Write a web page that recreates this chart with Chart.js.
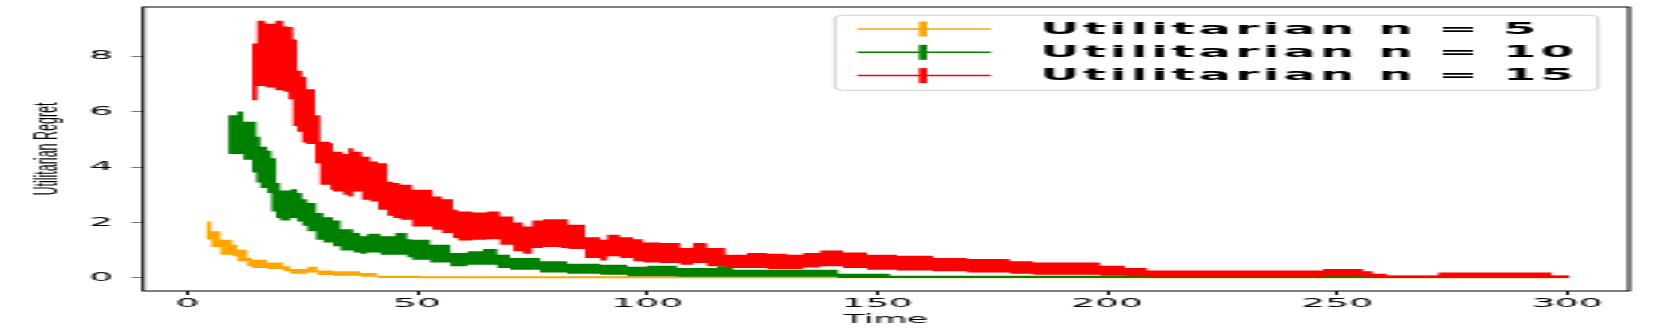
<!DOCTYPE html>
<html>
<head>
<meta charset="utf-8">
<title>Utilitarian Regret</title>
<script src="https://cdn.jsdelivr.net/npm/chart.js@4.4.1/dist/chart.umd.min.js"></script>
<style>
  html, body { margin: 0; padding: 0; background: #fff; overflow: hidden; }
  /* the figure is drawn narrow and stretched 3x horizontally, like the original */
  #wrap { width: 553px; height: 332px; transform: scaleX(3); transform-origin: 0 0; }
</style>
</head>
<body>
<div id="wrap"><canvas id="chart" width="553" height="332"></canvas></div>
<script>
// axis ticks
const xTicks = [0, 50, 100, 150, 200, 250, 300];
const yTicks = [0, 2, 4, 6, 8];

const seriesLabels = ['Utilitarian n = 5', 'Utilitarian n = 10', 'Utilitarian n = 15'];
const seriesColors = ['#ffa500', '#008000', '#ff0000'];

// n = 5 : step start times, upper / lower edge of error band
const n5Time  = [4.1, 5.2, 7.2, 9.8, 10.9, 13.0, 14.1, 17.4, 20.9, 22.4, 26.1, 28.3, 31.7, 37.6, 41.3, 50.7, 300.6];
const n5Upper = [2.04, 1.68, 1.38, 1.2, 1.02, 0.72, 0.66, 0.56, 0.42, 0.32, 0.4, 0.27, 0.24, 0.18, 0.08, 0.06, 0.06];
const n5Lower = [1.4, 1.12, 0.84, 0.78, 0.6, 0.42, 0.36, 0.32, 0.24, 0.15, 0.2, 0.11, 0.08, 0.04, 0.0, -0.01, -0.01];

// n = 10
const n10Time  = [8.9, 10.9, 12.2, 14.1, 15.0, 15.9, 17.4, 18.3, 19.3, 20.2, 22.4, 23.9, 25.0, 26.1, 28.0, 29.6, 31.7, 33.3, 36.1, 37.6, 39.1, 42.0, 45.2, 47.8, 48.9, 52.8, 57.2, 60.9, 64.3, 67.4, 70.2, 76.7, 82.6, 89.8, 95.7, 100.0, 106.5, 115.2, 118.7, 141.5, 152.8, 300.6];
const n10Upper = [5.87, 6.0, 5.63, 5.63, 5.09, 4.73, 4.59, 4.32, 3.42, 3.15, 3.2, 3.06, 2.84, 2.7, 2.34, 2.19, 2.07, 1.76, 1.62, 1.5, 1.59, 1.5, 1.62, 1.4, 1.38, 1.2, 0.9, 0.96, 1.04, 0.84, 0.72, 0.6, 0.51, 0.48, 0.4, 0.44, 0.36, 0.42, 0.3, 0.15, 0.08, 0.08];
const n10Lower = [4.47, 4.47, 4.26, 3.8, 3.44, 3.24, 3.06, 2.4, 2.16, 2.07, 2.16, 2.04, 1.88, 1.68, 1.38, 1.28, 1.14, 0.99, 0.92, 0.87, 0.92, 0.84, 0.84, 0.75, 0.66, 0.56, 0.42, 0.48, 0.48, 0.36, 0.3, 0.2, 0.15, 0.12, 0.06, 0.06, 0.04, 0.04, 0.04, 0.0, 0.0, 0.0];

// n = 15
const n15Time  = [14.1, 15.2, 17.0, 19.1, 20.9, 22.0, 23.0, 23.9, 25.0, 25.9, 27.8, 28.9, 31.1, 31.7, 33.9, 35.0, 36.1, 38.0, 39.8, 41.5, 43.5, 44.8, 46.3, 48.9, 53.3, 55.4, 57.8, 58.9, 62.0, 65.2, 68.0, 70.9, 73.0, 75.0, 77.4, 81.1, 82.8, 86.5, 89.8, 91.3, 94.1, 97.0, 99.1, 102.8, 107.2, 110.0, 113.0, 117.0, 121.7, 126.1, 130.4, 133.9, 137.6, 142.6, 147.8, 154.3, 162.2, 169.6, 178.9, 183.9, 198.5, 203.9, 208.7, 247.0, 255.7, 257.8, 260.9, 272.0, 296.7, 300.6];
const n15Upper = [8.45, 9.27, 9.17, 9.27, 9.07, 9.05, 8.6, 7.47, 7.25, 6.8, 5.87, 4.91, 4.86, 4.55, 4.47, 4.68, 4.55, 4.37, 4.2, 4.14, 3.47, 3.42, 3.36, 3.18, 2.94, 2.84, 2.46, 2.4, 2.36, 2.4, 2.22, 2.0, 1.86, 2.07, 2.12, 2.12, 1.92, 1.47, 1.38, 1.56, 1.47, 1.40, 1.28, 1.26, 1.08, 1.26, 1.08, 0.84, 0.9, 0.87, 0.84, 0.9, 0.99, 0.92, 0.84, 0.8, 0.72, 0.68, 0.6, 0.56, 0.44, 0.36, 0.27, 0.32, 0.24, 0.15, 0.09, 0.2, 0.09, 0.09];
const n15Lower = [6.41, 6.92, 6.87, 6.77, 6.71, 6.44, 5.48, 5.27, 4.88, 4.83, 4.14, 3.36, 3.18, 3.12, 3.0, 2.94, 3.12, 2.82, 2.76, 2.46, 2.24, 2.16, 2.1, 1.86, 1.74, 1.62, 1.44, 1.35, 1.38, 1.40, 1.2, 0.96, 0.87, 1.08, 1.12, 1.08, 1.04, 0.72, 0.63, 0.78, 0.72, 0.6, 0.56, 0.54, 0.48, 0.54, 0.42, 0.36, 0.36, 0.32, 0.32, 0.38, 0.42, 0.36, 0.3, 0.27, 0.24, 0.2, 0.15, 0.12, 0.08, 0.06, 0.04, 0.06, 0.04, 0.02, 0.0, 0.02, 0.02, 0.02];

const FONT = '"DejaVu Sans", sans-serif';

function toPoints(times, values) {
    return times.map((t, i) => ({ x: t, y: values[i] }));
}

// one band = lower edge + upper edge filled down to it
function band(times, upper, lower, color, order) {
    const common = { stepped: true, pointRadius: 0, borderWidth: 0, borderColor: color, order: order };
    return [
        Object.assign({ data: toPoints(times, lower), fill: false }, common),
        Object.assign({ data: toPoints(times, upper), fill: '-1', backgroundColor: color }, common)
    ];
}

const datasets = [].concat(
    band(n15Time, n15Upper, n15Lower, seriesColors[2], 0),
    band(n10Time, n10Upper, n10Lower, seriesColors[1], 1),
    band(n5Time, n5Upper, n5Lower, seriesColors[0], 2)
);

const framePlugin = {
    id: 'frame',
    afterDatasetsDraw(chart) {
        const { ctx, chartArea: a } = chart;
        ctx.save();
        ctx.strokeStyle = '#000';
        ctx.lineWidth = 1;
        ctx.strokeRect(a.left, a.top, a.right - a.left, a.bottom - a.top);
        ctx.restore();
    }
};

const yTitlePlugin = {
    id: 'yTitle',
    afterDraw(chart) {
        const { ctx, chartArea: a } = chart;
        ctx.save();
        ctx.translate(18.5, (a.top + a.bottom) / 2);
        ctx.rotate(-Math.PI / 2);
        ctx.scale(1, 0.9);
        ctx.font = '12.5px "Liberation Sans", Arial, sans-serif';
        ctx.fillStyle = '#000';
        ctx.textAlign = 'center';
        ctx.textBaseline = 'alphabetic';
        ctx.fillText('Utilitarian Regret', 0, 0);
        ctx.restore();
    }
};

const legendPlugin = {
    id: 'errLegend',
    afterDraw(chart) {
        const { ctx, chartArea: a } = chart;
        const right = a.right - 10.3;
        const left = right - 254.4;
        const top = a.top + 8.3;
        ctx.save();
        ctx.beginPath();
        ctx.roundRect(left, top, right - left, 75, 3);
        ctx.fillStyle = 'rgba(255,255,255,0.8)';
        ctx.fill();
        ctx.strokeStyle = '#d0d0d0';
        ctx.lineWidth = 1;
        ctx.stroke();

        ctx.font = 'bold 16px ' + FONT;
        ctx.letterSpacing = '1.35px';
        ctx.textBaseline = 'alphabetic';
        ctx.textAlign = 'left';
        seriesLabels.forEach((label, i) => {
            const cy = top + 13.7 + i * 23.3;
            const color = seriesColors[i];
            ctx.strokeStyle = color;
            ctx.lineWidth = 1.5;
            ctx.beginPath();
            ctx.moveTo(left + 7.4, cy);
            ctx.lineTo(left + 52, cy);
            ctx.stroke();
            ctx.fillStyle = color;
            ctx.fillRect(left + 28, cy - 7.5, 2.7, 15);
            ctx.fillStyle = '#000';
            ctx.fillText(label, left + 68.4, cy + 4.6);
        });
        ctx.restore();
    }
};

new Chart(document.getElementById('chart'), {
    type: 'line',
    data: { datasets: datasets },
    plugins: [framePlugin, yTitlePlugin, legendPlugin],
    options: {
        responsive: false,
        animation: false,
        devicePixelRatio: 1,
        events: [],
        layout: { padding: { left: 0, right: 10, top: 7, bottom: 0 } },
        plugins: { legend: { display: false }, tooltip: { enabled: false } },
        scales: {
            x: {
                type: 'linear',
                min: -9.6,
                max: 313.5,
                afterBuildTicks: s => { s.ticks = xTicks.map(v => ({ value: v })); },
                afterFit: s => { s.height = 41; s.paddingLeft = 0; s.paddingRight = 0; },
                grid: { drawOnChartArea: false, drawTicks: true, tickLength: 4, tickColor: '#111', tickWidth: 1 },
                border: { display: false },
                ticks: { color: '#000', font: { family: FONT, size: 12.5 }, padding: 1, maxRotation: 0, autoSkip: false },
                title: { display: true, text: 'Time', color: '#000', font: { family: FONT, size: 11.5 }, padding: { top: 0, bottom: 5 } }
            },
            y: {
                type: 'linear',
                min: -0.47,
                max: 9.77,
                afterBuildTicks: s => { s.ticks = yTicks.map(v => ({ value: v })); },
                afterFit: s => { s.width = 47.7; s.paddingTop = 0; s.paddingBottom = 0; },
                grid: { drawOnChartArea: false, drawTicks: true, tickLength: 4, tickColor: '#777', tickWidth: 1 },
                border: { display: false },
                ticks: { color: '#000', font: { family: FONT, size: 12.5 }, padding: 6 }
            }
        }
    }
});
</script>
</body>
</html>
